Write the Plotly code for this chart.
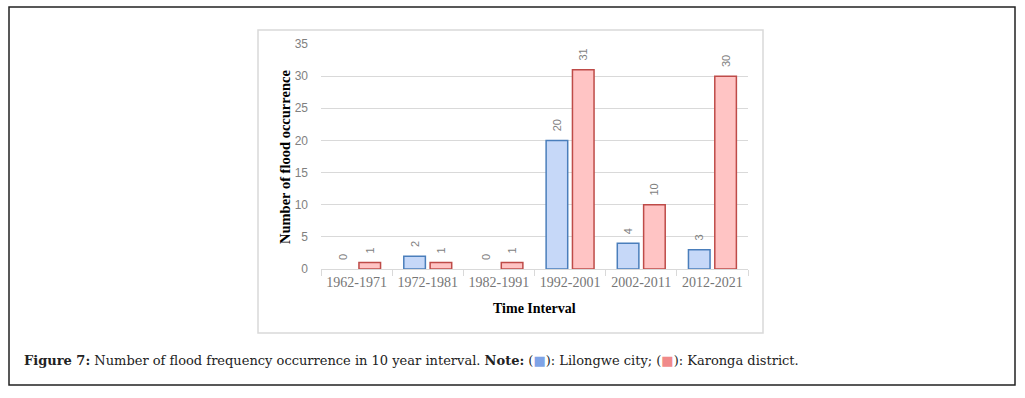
import plotly.graph_objects as go

categories = ["1962-1971", "1972-1981", "1982-1991", "1992-2001", "2002-2011", "2012-2021"]
lilongwe = [0, 2, 0, 20, 4, 3]
karonga = [1, 1, 1, 31, 10, 30]
y_ticks = [0, 5, 10, 15, 20, 25, 30, 35]

W, H = 1025, 398
L, R, T, B = 321, 748, 44, 269  # plot area in px


def px(x):
    return (x - L) / (R - L)


def py(y):
    return (B - y) / (B - T)


def line_widths(vals):
    return [0 if v == 0 else 1.5 for v in vals]


def labels(vals):
    # leading no-break spaces lift the rotated label off the bar top
    return ["\u00a0\u00a0" + str(v) for v in vals]


fig = go.Figure()
fig.add_trace(go.Bar(
    x=categories, y=lilongwe, name="Lilongwe city",
    marker=dict(color="#c6d8f8", line=dict(color="#4a7ebb", width=line_widths(lilongwe))),
    text=labels(lilongwe), textposition="outside", textangle=-90,
    textfont=dict(family="Liberation Sans", size=11, color="#7f7f7f"),
    cliponaxis=False,
))
fig.add_trace(go.Bar(
    x=categories, y=karonga, name="Karonga district",
    marker=dict(color="#ffc4c4", line=dict(color="#be4b48", width=line_widths(karonga))),
    text=labels(karonga), textposition="outside", textangle=-90,
    textfont=dict(family="Liberation Sans", size=11, color="#7f7f7f"),
    cliponaxis=False,
))

fig.update_layout(
    width=W, height=H,
    margin=dict(l=L, r=W - R, t=T, b=H - B, pad=0),
    paper_bgcolor="white", plot_bgcolor="white",
    showlegend=False,
    barmode="group", bargap=0.26, bargroupgap=0.18,
    xaxis=dict(
        type="category", showgrid=False, showline=True, linecolor="#d9d9d9", linewidth=1,
        ticks="outside", tickson="boundaries", ticklen=6, tickcolor="#d9d9d9",
        tickfont=dict(family="Liberation Serif", size=14, color="#767676"),
        fixedrange=True,
    ),
    yaxis=dict(
        range=[0, 35], tickvals=y_ticks, showgrid=True, gridcolor="#d9d9d9", gridwidth=1,
        zeroline=False, showline=False, ticks="", ticklabelstandoff=12,
        tickfont=dict(family="Liberation Sans", size=12, color="#7f7f7f"),
        fixedrange=True,
    ),
)

shapes = [
    # outer frame
    dict(type="rect", xref="paper", yref="paper", x0=px(9), x1=px(1015), y0=py(7), y1=py(385),
         line=dict(color="#222222", width=1.5), fillcolor="rgba(0,0,0,0)", layer="below"),
    # chart box
    dict(type="rect", xref="paper", yref="paper", x0=px(258), x1=px(763), y0=py(30), y1=py(333),
         line=dict(color="#d9d9d9", width=1.5), fillcolor="rgba(0,0,0,0)", layer="below"),
]
fig.update_layout(shapes=shapes)

annotations = [
    dict(text="<b>Number of flood occurrence</b>", xref="paper", yref="paper",
         x=px(285), y=py(157), textangle=-90, showarrow=False,
         font=dict(family="Liberation Serif", size=14.5, color="black"),
         xanchor="center", yanchor="middle"),
    dict(text="<b>Time Interval</b>", xref="paper", yref="paper",
         x=px(534), y=py(308), showarrow=False,
         font=dict(family="Liberation Serif", size=14, color="black"),
         xanchor="center", yanchor="middle"),
    dict(text="<b>Figure 7:</b> Number of flood frequency occurrence in 10 year interval. <b>Note:</b> "
              "(<span style='color:#7fa3e6'>■</span>): Lilongwe city; "
              "(<span style='color:#f08a8a'>■</span>): Karonga district.",
         xref="paper", yref="paper", x=px(22), y=py(360), showarrow=False,
         font=dict(family="DejaVu Serif", size=13, color="#222222"),
         xanchor="left", yanchor="middle", align="left"),
]
fig.update_layout(annotations=annotations)

fig.write_html("out.html", config={"displayModeBar": False},
               post_script="document.body.style.margin='0';document.body.style.padding='0';")
